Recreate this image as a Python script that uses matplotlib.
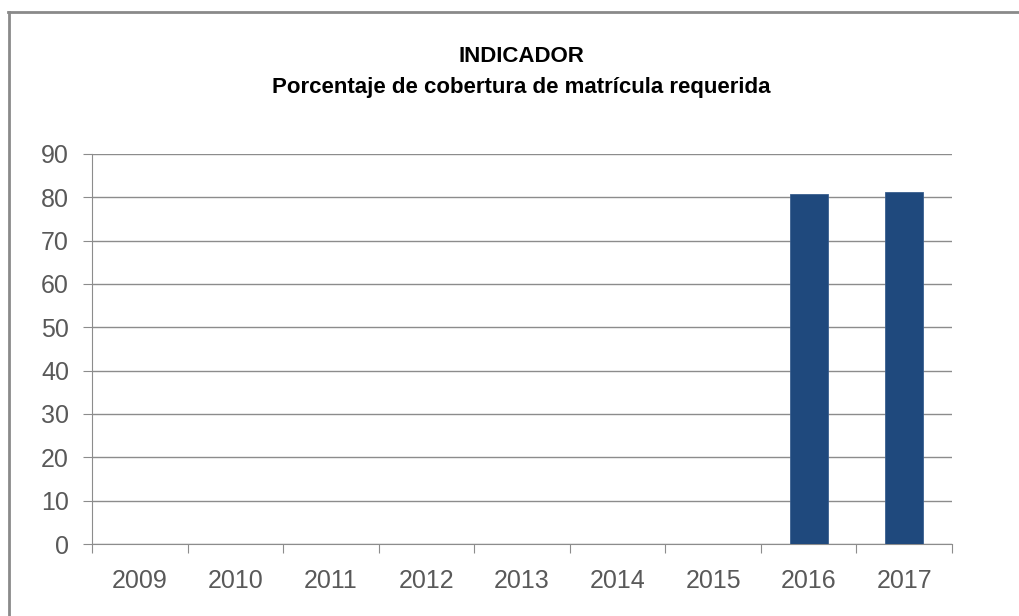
import matplotlib; matplotlib.use("Agg")
import matplotlib.pyplot as plt
import numpy as np

years = ["2009", "2010", "2011", "2012", "2013", "2014", "2015", "2016", "2017"]
values = [0, 0, 0, 0, 0, 0, 0, 80.7, 81.3]
shown = [False, False, False, False, False, False, False, True, True]

plt.rcParams.update({"font.family": "Liberation Sans"})
fig = plt.figure(figsize=(10.2, 6.16), dpi=100)
fig.patch.set_facecolor("white")

# chart frame (top and left edges visible, runs off the image to the right/bottom)
fig.add_artist(plt.Line2D([8/1020, 1.0], [1-12/616, 1-12/616], color="#8a8a8a", lw=2))
fig.add_artist(plt.Line2D([9/1020, 9/1020], [0, 1-12/616], color="#8a8a8a", lw=2))

ax = fig.add_axes([92/1020, 1-544/616, (952-92)/1020, (544-154)/616])
x = np.arange(len(years))
h = [v if s else 0 for v, s in zip(values, shown)]
ax.bar(x, h, 0.4, color="#1f497d", edgecolor="#3a5f8f", linewidth=0.6, zorder=3)

ax.set_xlim(-0.5, len(years) - 0.5)
ax.set_ylim(0, 90)
ax.set_yticks(range(0, 91, 10))
ax.yaxis.grid(True, color="#8c8c8c", lw=1)
ax.set_axisbelow(True)
for s in ("top", "right"):
    ax.spines[s].set_visible(False)
for s in ("left", "bottom"):
    ax.spines[s].set_color("#8c8c8c")
ax.tick_params(axis="y", length=6.5, color="#8c8c8c", labelsize=18, labelcolor="#595959", pad=10)
ax.set_xticks(np.arange(len(years) + 1) - 0.5)
ax.set_xticklabels([])
ax.set_xticks(x, minor=True)
ax.set_xticklabels(years, minor=True)
ax.tick_params(axis="x", which="major", length=6.5, color="#8c8c8c")
ax.tick_params(axis="x", which="minor", length=0, labelsize=18, labelcolor="#595959", pad=18)

fig.text(0.511, 1-57/616, "INDICADOR", ha="center", va="center", fontsize=16, fontweight="bold", color="black")
fig.text(0.511, 1-88/616, "Porcentaje de cobertura de matrícula requerida", ha="center", va="center",
         fontsize=16, fontweight="bold", color="black")

fig.savefig("out.png", dpi=100)
